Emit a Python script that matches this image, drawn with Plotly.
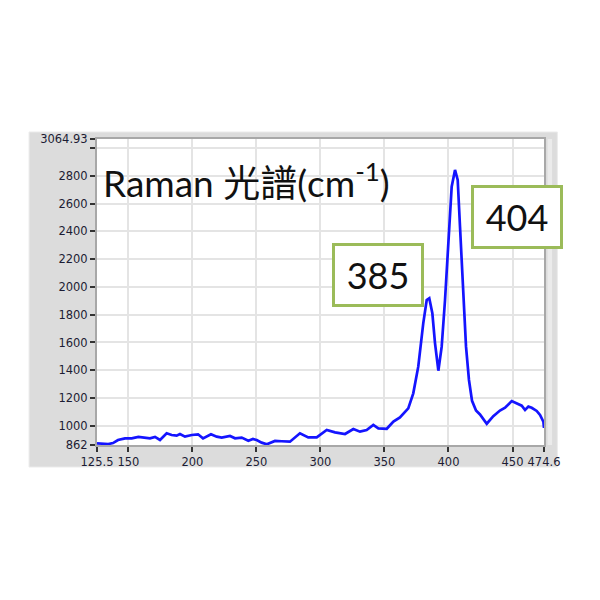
import plotly.graph_objects as go

# Raman spectrum
wavenumber = [
    125.5, 134.3, 138.0, 141.9, 147.4, 152.6, 157.8, 163.0, 166.9, 170.8,
    174.7, 179.9, 183.8, 187.7, 190.3, 194.2, 199.5, 204.4, 208.3, 214.5,
    219.0, 222.9, 229.4, 233.3, 238.5, 243.7, 247.3, 250.2, 254.1, 258.1,
    264.5, 269.7, 276.2, 284.0, 290.5, 297.1, 304.9, 311.4, 319.2, 325.7,
    330.9, 336.1, 341.3, 345.2, 351.8, 357.0, 362.1, 368.6, 372.5,
    376.4, 380.3, 383.0, 385.0, 387.4, 389.5, 392.1, 394.7, 397.3, 399.9,
    402.5, 405.1, 407.2, 409.0, 411.6, 413.7, 416.0, 418.4, 421.5, 424.6,
    429.9, 435.0, 440.2, 444.2, 449.4, 453.3, 457.2, 459.8, 462.4, 465.0,
    468.9, 471.5, 474.1, 474.6,
]
intensity = [
    874, 869, 876, 898, 910, 910, 920, 915, 910, 920,
    898, 946, 934, 929, 941, 922, 934, 939, 910, 939,
    922, 915, 927, 910, 915, 893, 905, 898, 879, 867,
    891, 889, 886, 946, 917, 917, 970, 953, 941, 977,
    958, 970, 1006, 982, 979, 1030, 1061, 1126, 1234,
    1426, 1738, 1906, 1918, 1810, 1594, 1397, 1570, 1906, 2314,
    2722, 2842, 2770, 2434, 1954, 1570, 1330, 1180, 1110, 1082,
    1015, 1070, 1110, 1130, 1178, 1160, 1145, 1114, 1138, 1130,
    1107, 1078, 1030, 985,
]

x_range = [125.5, 474.6]
y_range = [862, 3064.93]
x_ticks = [125.5, 150, 200, 250, 300, 350, 400, 450, 474.6]
x_ticktext = ["125.5", "150", "200", "250", "300", "350", "400", "450", "474.6"]
y_ticks = [862, 1000, 1200, 1400, 1600, 1800, 2000, 2200, 2400, 2600, 2800, 3064.93]
y_ticktext = ["862", "1000", "1200", "1400", "1600", "1800", "2000", "2200", "2400",
              "2600", "2800", "3064.93"]
y_minor_ticks = [3000]

title_text = "Raman 光譜(cm<sup>-1</sup>)"
peak_labels = ["385", "404"]

fig = go.Figure()
fig.add_trace(go.Scatter(
    x=wavenumber, y=intensity, mode="lines",
    line=dict(color="#1414ff", width=2.7),
    hoverinfo="skip",
))

tick_font = dict(family="DejaVu Sans", size=11.5, color="#1c1c34")
grid_col = "#e4e4e4"

fig.update_layout(
    width=600, height=600,
    margin=dict(l=89, r=64, t=131, b=163),
    paper_bgcolor="white",
    plot_bgcolor="white",
    showlegend=False,
    xaxis=dict(
        range=x_range, tickvals=x_ticks, ticktext=x_ticktext,
        ticks="outside", ticklen=5, tickwidth=1.5, tickcolor="#333",
        tickfont=tick_font, showgrid=True, gridcolor=grid_col, gridwidth=2,
        showline=True, linecolor="#a8a8a8", linewidth=2, mirror=True,
        zeroline=False, fixedrange=True,
    ),
    yaxis=dict(
        range=y_range, tickvals=y_ticks, ticktext=y_ticktext,
        ticks="outside", ticklen=5, tickwidth=1.5, tickcolor="#333",
        tickfont=tick_font, showgrid=True, gridcolor=grid_col, gridwidth=2,
        showline=True, linecolor="#a8a8a8", linewidth=2, mirror=True,
        zeroline=False, fixedrange=True,
        minor=dict(tickvals=y_minor_ticks, ticks="outside", ticklen=5,
                   tickwidth=1.5, tickcolor="#333", showgrid=True,
                   gridcolor=grid_col, gridwidth=2),
    ),
    shapes=[
        dict(type="rect", xref="paper", yref="paper", layer="below",
             x0=-0.152, x1=1.030, y0=-0.072, y1=1.023,
             fillcolor="#dcdcdc", line=dict(color="#ececec", width=1)),
        dict(type="rect", xref="paper", yref="paper", layer="below",
             x0=1.008, x1=1.018, y0=0.0, y1=1.0,
             fillcolor="#ebebeb", line=dict(width=0)),
        dict(type="rect", xref="paper", yref="paper", layer="below",
             x0=0, x1=1, y0=0, y1=1,
             fillcolor="white", line=dict(width=0)),
    ],
    annotations=[
        dict(text=title_text, xref="paper", yref="paper", x=0.010, y=0.865,
             xanchor="left", yanchor="middle", showarrow=False,
             font=dict(family="Lato, 'Noto Sans CJK TC'", size=37, color="#111")),
        dict(text=peak_labels[0], xref="paper", yref="paper", x=0.6286, y=0.5556,
             xanchor="center", yanchor="middle", showarrow=False,
             width=86, height=58, borderpad=0, borderwidth=3,
             bordercolor="#9bbb59", bgcolor="white",
             font=dict(family="Lato", size=36, color="#111")),
        dict(text=peak_labels[1], xref="paper", yref="paper", x=0.9407, y=0.745,
             xanchor="center", yanchor="middle", showarrow=False,
             width=86, height=58, borderpad=0, borderwidth=3,
             bordercolor="#9bbb59", bgcolor="white",
             font=dict(family="Lato", size=36, color="#111")),
    ],
)

fig.write_html("out.html")
